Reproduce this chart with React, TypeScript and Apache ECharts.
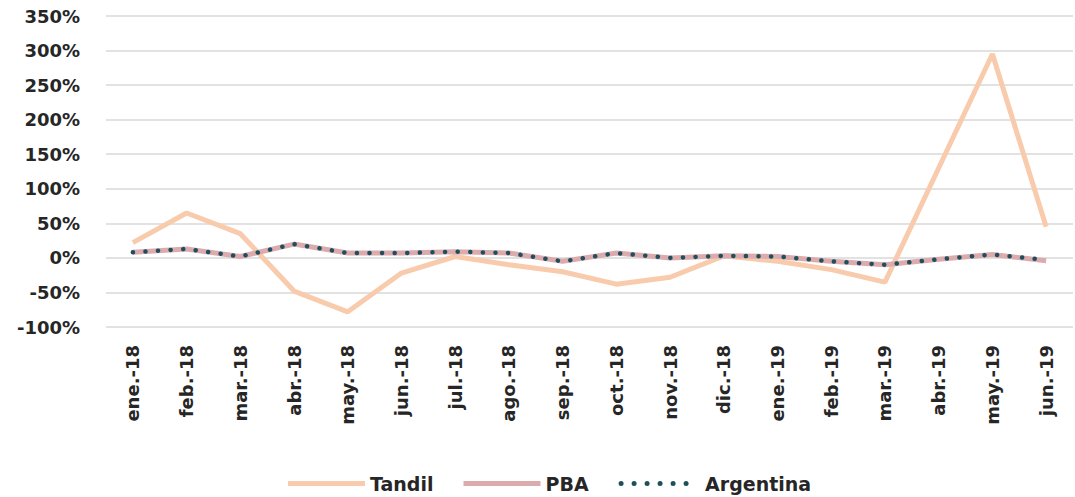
import React, { useEffect, useRef } from "react";
import * as echarts from "echarts";

const categories = [
  "ene.-18", "feb.-18", "mar.-18", "abr.-18", "may.-18", "jun.-18",
  "jul.-18", "ago.-18", "sep.-18", "oct.-18", "nov.-18", "dic.-18",
  "ene.-19", "feb.-19", "mar.-19", "abr.-19", "may.-19", "jun.-19",
];

const tandil = [22, 65, 35, -48, -78, -22, 2, -10, -20, -38, -28, 3, -5, -17, -35, 130, 295, 45];
const pba = [8, 13, 2, 20, 7, 7, 9, 7, -5, 7, 0, 3, 2, -5, -10, -2, 5, -4];
const argentina = [8, 13, 2, 20, 7, 7, 9, 7, -5, 7, 0, 3, 2, -5, -10, -2, 5, -3];

const dotsIcon =
  "path://" +
  [0, 13, 26, 39, 52, 65]
    .map((x) => `M${x},2.5a2.5,2.5 0 1,0 5,0a2.5,2.5 0 1,0 -5,0Z`)
    .join(" ");

export default function App() {
  const ref = useRef<HTMLDivElement>(null);
  useEffect(() => {
    if (!ref.current) return;
    const chart = echarts.init(ref.current, null, { renderer: "svg" });
    const font = "DejaVu Sans";
    chart.setOption({
      animation: false,
      backgroundColor: "#ffffff",
      grid: { left: 106, right: 2, top: 16, bottom: 170, containLabel: false },
      legend: {
        left: 283,
        top: 469,
        itemWidth: 77,
        itemHeight: 5,
        itemGap: 30,
        textStyle: { fontFamily: font, fontWeight: "bold", fontSize: 19, color: "#262626" },
        data: [
          { name: "Tandil", icon: "rect" },
          { name: "PBA", icon: "rect" },
          { name: "Argentina", icon: dotsIcon, textStyle: { padding: [0, 0, 0, 8] } },
        ],
      },
      xAxis: {
        type: "category",
        data: categories,
        boundaryGap: true,
        axisLine: { show: false },
        axisTick: { show: false },
        axisLabel: {
          rotate: 90,
          margin: 18,
          interval: 0,
          fontFamily: font,
          fontWeight: "bold",
          fontSize: 18,
          color: "#262626",
        },
      },
      yAxis: {
        type: "value",
        min: -100,
        max: 350,
        interval: 50,
        axisLine: { show: false },
        axisTick: { show: false },
        splitLine: { lineStyle: { color: "#d9d9d9", width: 1.5 } },
        axisLabel: {
          margin: 26,
          formatter: "{value}%",
          fontFamily: font,
          fontWeight: "bold",
          fontSize: 18,
          color: "#262626",
        },
      },
      series: [
        {
          name: "Tandil",
          type: "line",
          data: tandil,
          symbol: "none",
          lineStyle: { color: "#f8cbad", width: 5 },
          itemStyle: { color: "#f8cbad" },
        },
        {
          name: "PBA",
          type: "line",
          data: pba,
          symbol: "none",
          lineStyle: { color: "#dcabae", width: 5 },
          itemStyle: { color: "#dcabae" },
        },
        {
          name: "Argentina",
          type: "line",
          data: argentina,
          symbol: "none",
          lineStyle: { color: "#1f4f5c", width: 4.5, type: [0.1, 12.5], cap: "round" },
          itemStyle: { color: "#1f4f5c" },
        },
      ],
    });
    return () => chart.dispose();
  }, []);
  return (
    <div
      ref={ref}
      style={{ position: "fixed", left: 0, top: 0, width: 1075, height: 497 }}
    />
  );
}
